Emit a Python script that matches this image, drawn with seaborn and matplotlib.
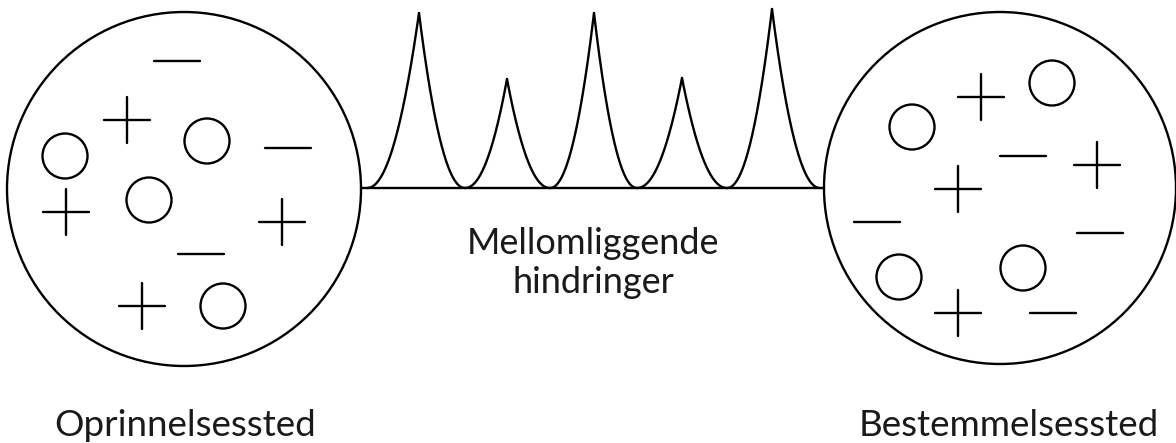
import numpy as np
import pandas as pd
import matplotlib
matplotlib.use("Agg")
import matplotlib.pyplot as plt
from matplotlib.patches import Circle
import seaborn as sns

# big circles: centre x, centre y, radius (pixel space)
big_circles = [(184, 189, 177), (1000, 188, 176)]

# particles inside the circles
plus_pos = [(127, 120), (66, 212), (282, 222), (142, 306),
            (981, 97), (1097, 165), (958, 189), (958, 313)]
minus_pos = [(177, 61), (288, 148), (201, 254),
             (1023, 156), (877, 222), (1100, 233), (1053, 313)]
ring_pos = [(207, 141), (65, 156), (149, 200), (223, 306),
            (1052, 83), (912, 127), (899, 277), (1023, 268)]

# barrier peaks between the circles
valleys = [367, 465, 550, 637, 727, 820]
peak_x = [419, 507, 594, 682, 772]
peak_top = [13, 79, 13, 78, 9]
base_y = 188

labels = ["Oprinnelsessted", "Bestemmelsessted"]
label_x = [185, 1009]
mid_lines = ["Mellomliggende", "hindringer"]
mid_baselines = [254, 293]

sns.set_theme(style="white")
plt.rcParams["font.family"] = ["Lato", "DejaVu Sans"]

fig, ax = plt.subplots(figsize=(11.76, 4.43), dpi=100)
fig.subplots_adjust(0, 0, 1, 1)

lw = 1.7
for cx, cy, r in big_circles:
    ax.add_patch(Circle((cx, cy), r, fill=False, lw=lw, color="black"))

arm = 23
for x, y in plus_pos:
    ax.plot([x - arm, x + arm], [y, y], color="black", lw=lw)
    ax.plot([x, x], [y - arm, y + arm], color="black", lw=lw)
for x, y in minus_pos:
    ax.plot([x - arm, x + arm], [y, y], color="black", lw=lw)
for x, y in ring_pos:
    ax.add_patch(Circle((x, y), 22.5, fill=False, lw=lw, color="black"))

# baseline between the circles
ax.plot([big_circles[0][0] + big_circles[0][2], big_circles[1][0] - big_circles[1][2]],
        [base_y, base_y], color="black", lw=lw)

# cusp-shaped peaks
rows = []
for i, (px, top) in enumerate(zip(peak_x, peak_top)):
    h = base_y - top
    for side, edge in (("l", valleys[i]), ("r", valleys[i + 1])):
        xs = np.linspace(edge, px, 150)
        t = (xs - edge) / (px - edge)
        ys = base_y - h * t ** 2.1
        for xv, yv in zip(xs, ys):
            rows.append({"x": xv, "y": yv, "seg": f"{i}{side}"})
df = pd.DataFrame(rows)
sns.lineplot(data=df, x="x", y="y", units="seg", estimator=None,
             color="black", lw=lw, ax=ax, sort=False)
ax.set_xlim(0, 1176)
ax.set_ylim(443, 0)
ax.axis("off")

for txt, x in zip(labels, label_x):
    ax.text(x, 436, txt, ha="center", va="baseline", fontsize=26.5,
            color="#1a1a1a")
for txt, yb in zip(mid_lines, mid_baselines):
    ax.text(593, yb, txt, ha="center", va="baseline", fontsize=26,
            color="#1a1a1a")

fig.savefig("out.png", dpi=100)
